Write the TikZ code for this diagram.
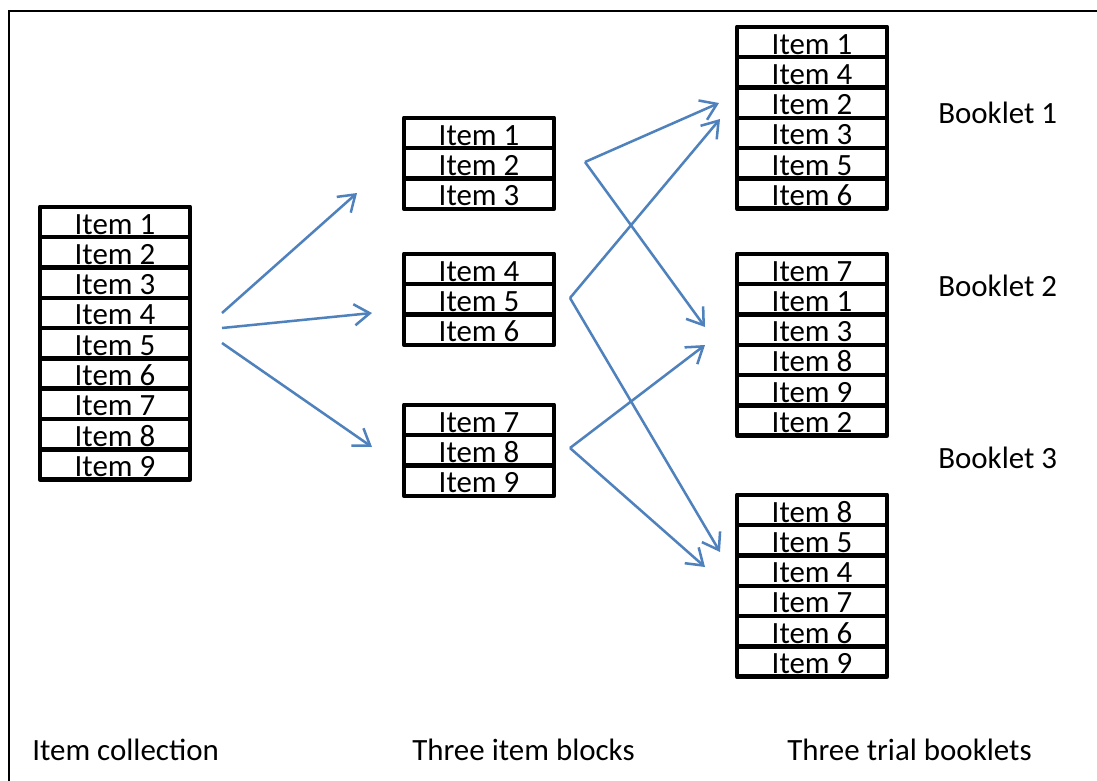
\documentclass[tikz,border=0pt]{standalone}
\usepackage{fontspec}
\setmainfont{Carlito}
\usepackage{xcolor}
\usepackage{tikz}
\usetikzlibrary{positioning, arrows.meta}
\definecolor{officeblue}{HTML}{4F81BD}
\tikzstyle{line} = [draw, officeblue, line width=1.8pt, -{Straight Barb[length=11pt, width=15pt]}]
\tikzstyle{item} = [rectangle, draw, line width=3.2pt, line join=round,
    minimum width=3.75cm, minimum height=0.7575cm, inner sep=0pt,
    text depth=0pt, text height=0.6cm]
\tikzstyle{caption} = [anchor=base west, inner sep=0pt]

\begin{document}
\begin{tikzpicture}[x=0.025cm, y=-0.025cm, node distance=0.7575cm,
    font=\fontsize{22}{26}\selectfont]
      \useasboundingbox (0,0) rectangle (1097,781);
      \draw [line width=1.4pt] (9,781) -- (9,11) -- (1097,11);
      % Place collection nodes
      \node [item] (c1) at (115,222) {Item 1};
      \node [item, below of=c1] (c2) {Item 2};
      \node [item, below of=c2] (c3) {Item 3};
      \node [item, below of=c3] (c4) {Item 4};
      \node [item, below of=c4] (c5) {Item 5};
      \node [item, below of=c5] (c6) {Item 6};
      \node [item, below of=c6] (c7) {Item 7};
      \node [item, below of=c7] (c8) {Item 8};
      \node [item, below of=c8] (c9) {Item 9};
      % Place block nodes
      \node [item] (b1) at (479,133) {Item 1};
      \node [item, below of=b1] (b2) {Item 2};
      \node [item, below of=b2] (b3) {Item 3};
      \node [item] (b4) at (479,269) {Item 4};
      \node [item, below of=b4] (b5) {Item 5};
      \node [item, below of=b5] (b6) {Item 6};
      \node [item] (b7) at (479,420) {Item 7};
      \node [item, below of=b7] (b8) {Item 8};
      \node [item, below of=b8] (b9) {Item 9};
      % Place booklet nodes
      \node [item] (bka1) at (812,42) {Item 1};
      \node [item, below of=bka1] (bka2) {Item 4};
      \node [item, below of=bka2] (bka3) {Item 2};
      \node [item, below of=bka3] (bka4) {Item 3};
      \node [item, below of=bka4] (bka5) {Item 5};
      \node [item, below of=bka5] (bka6) {Item 6};
      \node [item] (bkb1) at (812,269) {Item 7};
      \node [item, below of=bkb1] (bkb2) {Item 1};
      \node [item, below of=bkb2] (bkb3) {Item 3};
      \node [item, below of=bkb3] (bkb4) {Item 8};
      \node [item, below of=bkb4] (bkb5) {Item 9};
      \node [item, below of=bkb5] (bkb6) {Item 2};
      \node [item] (bkc1) at (812,510) {Item 8};
      \node [item, below of=bkc1] (bkc2) {Item 5};
      \node [item, below of=bkc2] (bkc3) {Item 4};
      \node [item, below of=bkc3] (bkc4) {Item 7};
      \node [item, below of=bkc4] (bkc5) {Item 6};
      \node [item, below of=bkc5] (bkc6) {Item 9};
      % Place labels
      \node [caption] (booka) at (938,124) {Booklet 1};
      \node [caption] (bookb) at (938,296) {Booklet 2};
      \node [caption] (bookc) at (938,468) {Booklet 3};
      \node [caption] (collection) at (32,760) {Item collection};
      \node [caption] (blocks) at (412,760) {Three item blocks};
      \node [caption] (booklets) at (787,760) {Three trial booklets};
      % Arrow ends
      \coordinate (splita) at (222,313);
      \coordinate (splitb) at (222,328);
      \coordinate (splitc) at (222,343);
      \coordinate (toba) at (357,193);
      \coordinate (tobb) at (372,313);
      \coordinate (tobc) at (372,447);
      \coordinate (forka) at (585,162);
      \coordinate (forkb) at (570,298);
      \coordinate (forkc) at (570,448);
      \coordinate (tobka) at (719,103);
      \coordinate (tobkab) at (720,119);
      \coordinate (tobkb) at (705,327);
      \coordinate (tobkbc) at (705,345);
      \coordinate (tobkc) at (720,552);
      \coordinate (tobkcc) at (705,567);
      % Draw edges
      \path [line] (splita) -- (toba);
      \path [line] (splitb) -- (tobb);
      \path [line] (splitc) -- (tobc);
      % Draw booklet edges
      \path [line] (forka) -- (tobka);
      \path [line] (forka) -- (tobkb);
      \path [line] (forkb) -- (tobkab);
      \path [line] (forkb) -- (tobkc);
      \path [line] (forkc) -- (tobkbc);
      \path [line] (forkc) -- (tobkcc);
  \end{tikzpicture}
\end{document}
